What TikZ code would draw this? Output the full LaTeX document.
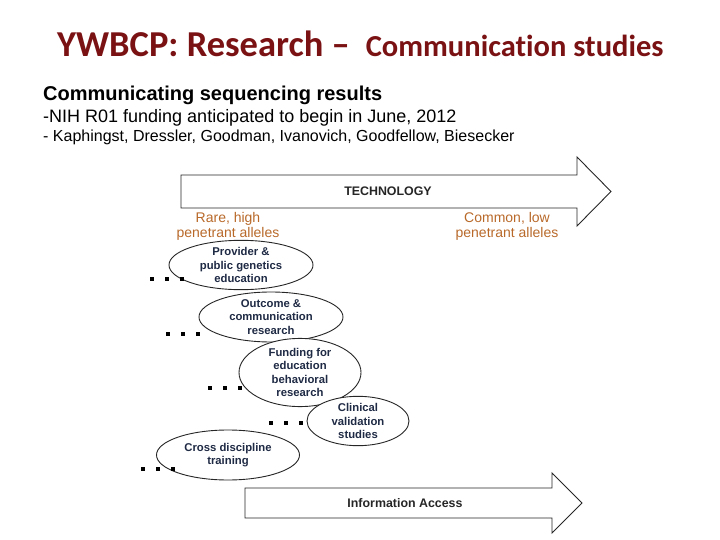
\documentclass[tikz,border=0pt]{standalone}
\usepackage{fontspec}
\setmainfont{Liberation Sans}
\newfontfamily\titlefont[Ligatures=NoCommon]{Carlito}
\usetikzlibrary{shapes.geometric}
\definecolor{titlered}{HTML}{7A1214}
\definecolor{allele}{HTML}{B8692A}
\definecolor{navy}{HTML}{1F2A44}
\tikzset{
  bubble/.style={draw=black!85, line width=0.9pt, fill=white, ellipse, inner sep=0pt,
     text=navy, font=\fontsize{11.3}{13.3}\selectfont\bfseries, align=center},
  bigarrow/.style={draw=black!85, line width=0.9pt, fill=white},
  arrowtext/.style={font=\fontsize{12.4}{14}\selectfont\bfseries, text=black!85},
  alleletext/.style={font=\fontsize{14}{15}\selectfont, text=allele, align=center},
}
\newcommand{\dotrow}[2]{%
  \foreach \k in {0,1,2} {\fill[black] ({#1+15*\k-2.2},{#2-2.2}) rectangle ++(4.4,4.4);}}
\begin{document}
\begin{tikzpicture}[x=1pt,y=-1pt]
\useasboundingbox (0,0) rectangle (720,540);
% title
\node[anchor=base west, inner sep=0pt, text=titlered] (title) at (57,57)
  {\titlefont\bfseries\fontsize{36.5}{40}\selectfont YWBCP: Research –\hspace{16pt}{\fontsize{30.5}{32}\selectfont Communication studies}};
\node[anchor=base west, inner sep=0pt] (t1) at (43,101)
  {\fontsize{20}{22}\selectfont\bfseries Communicating sequencing results};
\node[anchor=base west, inner sep=0pt] (t2) at (43,123)
  {\fontsize{18}{20}\selectfont -NIH R01 funding anticipated to begin in June, 2012};
\node[anchor=base west, inner sep=0pt] (t3) at (43,142)
  {\fontsize{16}{18}\selectfont - Kaphingst, Dressler, Goodman, Ivanovich, Goodfellow, Biesecker};
% technology arrow
\draw[bigarrow] (181,175) -- (577,175) -- (577,157) -- (611,191.5) -- (577,226) -- (577,208) -- (181,208) -- cycle;
\node[arrowtext] (tech) at (388,191.5) {TECHNOLOGY};
\node[alleletext] (rare) at (228,226.5) {Rare, high\\penetrant alleles};
\node[alleletext] (common) at (507,226.5) {Common, low\\penetrant alleles};
% info arrow
\draw[bigarrow] (245,488) -- (552,488) -- (552,473) -- (582,503) -- (552,533) -- (552,518) -- (245,518) -- cycle;
\node[arrowtext] (info) at (405,503) {Information Access};
% bubbles
\node[bubble, minimum width=144, minimum height=49] (b1) at (241,265) {Provider \&\\public genetics\\education};
\node[bubble, minimum width=144, minimum height=50] (b2) at (271,317) {Outcome \&\\communication\\research};
\node[bubble, minimum width=122, minimum height=61] (b3) at (300,372.5) {Funding for\\education\\behavioral\\research};
\node[bubble, minimum width=102, minimum height=40] (b4) at (358,421) {Clinical\\validation\\studies};
\node[bubble, minimum width=143, minimum height=50] (b5) at (228,455) {Cross discipline\\training};
% dots
\dotrow{152}{279}
\dotrow{168}{334}
\dotrow{210}{388}
\dotrow{271}{423}
\dotrow{143}{469}
\end{tikzpicture}
\end{document}
